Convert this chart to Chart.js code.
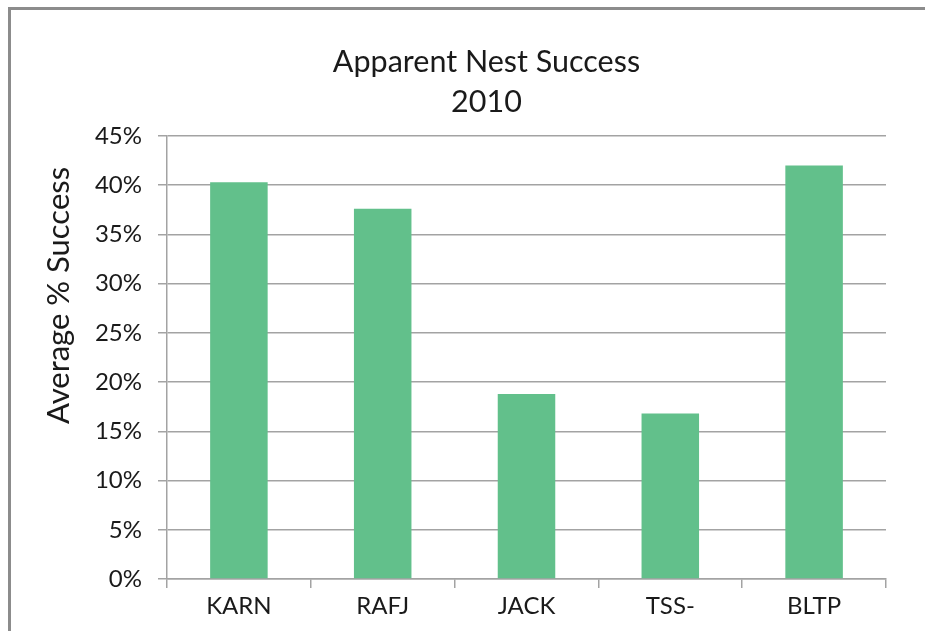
<!DOCTYPE html>
<html>
<head>
<meta charset="utf-8">
<script src="https://cdn.jsdelivr.net/npm/chart.js@4"></script>
<style>
  html, body { margin: 0; padding: 0; background: #ffffff; width: 925px; height: 631px; overflow: hidden; }
  #frame { position: absolute; left: 8px; top: 7px; width: 1000px; height: 1000px; border: 3px solid #8c8c8c; box-sizing: border-box; }
  #c { position: absolute; left: 0; top: 0; }
</style>
</head>
<body>
<div id="frame"></div>
<canvas id="c" width="925" height="631"></canvas>
<script>
const categories = ["KARN", "RAFJ", "JACK", "TSS-", "BLTP"];
const successPct = [40.3, 37.6, 18.8, 16.8, 42.0];
const titleLines = ["Apparent Nest Success", "2010"];
const yAxisTitle = "Average % Success";
const yMin = 0, yMax = 45, yStep = 5;

const FONT = "Lato, 'Open Sans', sans-serif";
const grey = "#a3a3a3";

// Excel centres the chart title over the plot-plus-axis block and the
// vertical axis title a little above the plot centre; mimic that placement.
const placementPlugin = {
  id: "excelPlacement",
  afterLayout(chart) {
    const tb = chart.titleBlock;
    if (tb) { tb.left = 87; tb.width = tb.right - tb.left; }
    const ys = chart.scales.y;
    if (ys && !ys._wrappedTitle) {
      const orig = ys.drawTitle;
      ys.drawTitle = function (...args) {
        const t = this.top, b = this.bottom;
        this.top = t - 62; this.bottom = b - 62;
        orig.apply(this, args);
        this.top = t; this.bottom = b;
      };
      ys._wrappedTitle = true;
    }
  }
};

new Chart(document.getElementById("c"), {
  type: "bar",
  data: {
    labels: categories,
    datasets: [{
      data: successPct,
      backgroundColor: "#62c08b",
      borderWidth: 0,
      barPercentage: 0.4,
      categoryPercentage: 1.0
    }]
  },
  plugins: [placementPlugin],
  options: {
    responsive: false,
    animation: false,
    devicePixelRatio: 1,
    layout: { padding: { left: 0, right: 39, top: 0, bottom: 0 } },
    plugins: {
      legend: { display: false },
      tooltip: { enabled: false },
      title: {
        display: true,
        text: titleLines,
        color: "#1a1a1a",
        font: { family: FONT, size: 30.5, weight: "normal", lineHeight: 1.31 },
        padding: { top: 42, bottom: 14 }
      }
    },
    scales: {
      x: {
        offset: true,
        grid: { display: true, offset: true, drawOnChartArea: false, drawTicks: true, tickLength: 9, color: grey, lineWidth: 1.5 },
        border: { display: true, color: grey, width: 1.5 },
        ticks: { color: "#1a1a1a", font: { family: FONT, size: 24 }, padding: 4 },
        afterFit: s => { s.height = 52; }
      },
      y: {
        min: yMin, max: yMax,
        grid: { color: grey, lineWidth: 1.5, drawTicks: true, tickLength: 9 },
        border: { display: true, color: grey, width: 1.5 },
        ticks: {
          stepSize: yStep,
          color: "#1a1a1a",
          font: { family: FONT, size: 24 },
          padding: 16,
          callback: v => v + "%"
        },
        title: {
          display: true,
          text: yAxisTitle,
          color: "#1a1a1a",
          font: { family: FONT, size: 31, weight: "normal", lineHeight: 1.2 },
          padding: { top: 40, bottom: 0 }
        },
        afterFit: s => { s.width = 167; }
      }
    }
  }
});
</script>
</body>
</html>
